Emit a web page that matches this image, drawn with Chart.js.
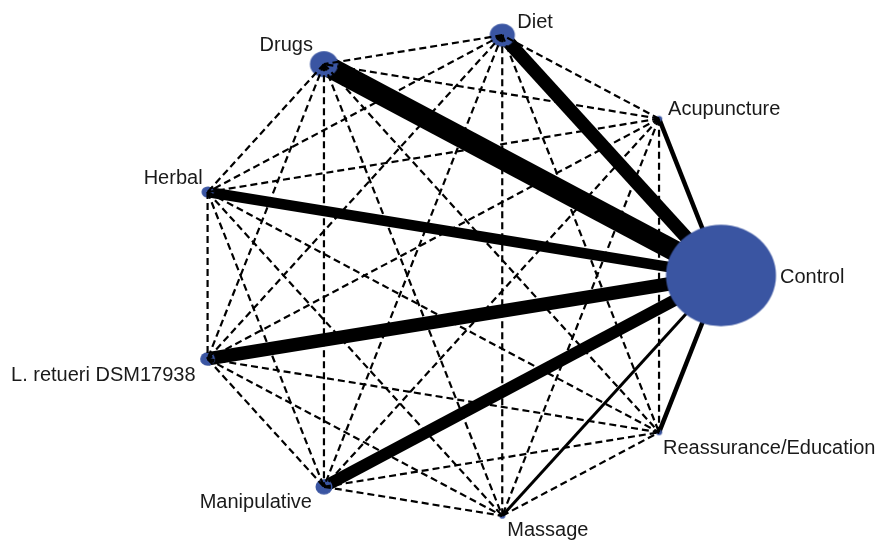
<!DOCTYPE html>
<html>
<head>
<meta charset="utf-8">
<script src="https://cdn.jsdelivr.net/npm/chart.js@4/dist/chart.umd.min.js"></script>
<style>
  html, body { margin: 0; padding: 0; background: #ffffff; }
  #wrap { width: 875px; height: 540px; }
</style>
</head>
<body>
<div id="wrap"><canvas id="net" width="875" height="540"></canvas></div>
<script>
// Network of treatment comparisons: nodes sized by participants,
// solid edges weighted by number of trials against Control.
const treatments = ['Control', 'Acupuncture', 'Diet', 'Drugs', 'Herbal',
  'L. retueri DSM17938', 'Manipulative', 'Massage', 'Reassurance/Education'];
const participants = [9800, 30, 510, 640, 120, 180, 235, 30, 30];
const trialsVsControl = [0, 3, 9, 14, 7, 9, 8, 2, 3];

// Layout: nodes evenly spaced on a circle, counter-clockwise from Control
const step = 2 * Math.PI / treatments.length;
const nodes = treatments.map((name, i) => ({ x: Math.cos(i * step), y: Math.sin(i * step) }));
const nodeRadius = participants.map(n => 0.0021 * Math.sqrt(n)); // in circle units

// Label placement around each node (pixels)
const labelPlace = [
  { align: 'left',  dx: 59,  dy: 7.5 },
  { align: 'left',  dx: 9,   dy: -4 },
  { align: 'left',  dx: 15,  dy: -7 },
  { align: 'right', dx: -11, dy: -13.5 },
  { align: 'right', dx: -5,  dy: -8 },
  { align: 'right', dx: -12, dy: 22 },
  { align: 'right', dx: -12, dy: 21 },
  { align: 'left',  dx: 5,   dy: 20 },
  { align: 'left',  dx: 4,   dy: 22 }
];

const NODE_COLOR = '#3A55A2';
const datasets = [];

// Direct comparisons with Control: solid, width by trial count
for (let i = 1; i < treatments.length; i++) {
  datasets.push({
    data: [nodes[0], nodes[i]],
    showLine: true,
    borderColor: '#000000',
    borderWidth: 1.5 * trialsVsControl[i],
    borderCapStyle: 'butt',
    pointRadius: 0,
    clip: false,
    order: 3
  });
}

// Nodes: ellipse images scaled through the axes
const ellipseCache = {};
function ellipseFor(chart, idx) {
  const xs = chart.scales.x, ys = chart.scales.y;
  const rx = Math.abs(xs.getPixelForValue(nodeRadius[idx]) - xs.getPixelForValue(0));
  const ry = Math.abs(ys.getPixelForValue(nodeRadius[idx]) - ys.getPixelForValue(0));
  const key = rx.toFixed(2) + '_' + ry.toFixed(2);
  if (ellipseCache[key]) return ellipseCache[key];
  const c = document.createElement('canvas');
  c.width = Math.ceil(2 * rx) + 2;
  c.height = Math.ceil(2 * ry) + 2;
  const g = c.getContext('2d');
  g.fillStyle = NODE_COLOR;
  g.beginPath();
  g.ellipse(c.width / 2, c.height / 2, rx, ry, 0, 0, Math.PI * 2);
  g.fill();
  ellipseCache[key] = c;
  return c;
}
datasets.push({
  data: nodes,
  showLine: false,
  pointRadius: 5,
  pointStyle: ctx => ellipseFor(ctx.chart, ctx.dataIndex),
  backgroundColor: NODE_COLOR,
  borderWidth: 0,
  clip: false,
  order: 2
});

// Treatments never compared head-to-head: dashed
for (let i = 1; i < treatments.length; i++) {
  for (let j = i + 1; j < treatments.length; j++) {
    datasets.push({
      data: [nodes[i], nodes[j]],
      showLine: true,
      borderColor: '#000000',
      borderWidth: 2.2,
      borderDash: [7, 4],
      borderCapStyle: 'butt',
      pointRadius: 0,
      clip: false,
      order: 1
    });
  }
}

const nodeLabels = {
  id: 'nodeLabels',
  afterDraw(chart) {
    const ctx = chart.ctx, xs = chart.scales.x, ys = chart.scales.y;
    ctx.save();
    ctx.font = '20px "Liberation Sans", Arial, sans-serif';
    ctx.fillStyle = '#1a1a1a';
    ctx.textBaseline = 'alphabetic';
    treatments.forEach((name, i) => {
      const p = labelPlace[i];
      ctx.textAlign = p.align;
      ctx.fillText(name, xs.getPixelForValue(nodes[i].x) + p.dx, ys.getPixelForValue(nodes[i].y) + p.dy);
    });
    ctx.restore();
  }
};

new Chart(document.getElementById('net'), {
  type: 'scatter',
  data: { datasets },
  options: {
    responsive: false,
    animation: false,
    events: [],
    layout: { padding: 0, autoPadding: false },
    plugins: { legend: { display: false }, tooltip: { enabled: false }, title: { display: false } },
    scales: {
      x: { type: 'linear', min: -1.724, max: 1.582, display: false },
      y: { type: 'linear', min: -1.084, max: 1.129, display: false }
    }
  },
  plugins: [nodeLabels]
});
</script>
</body>
</html>
